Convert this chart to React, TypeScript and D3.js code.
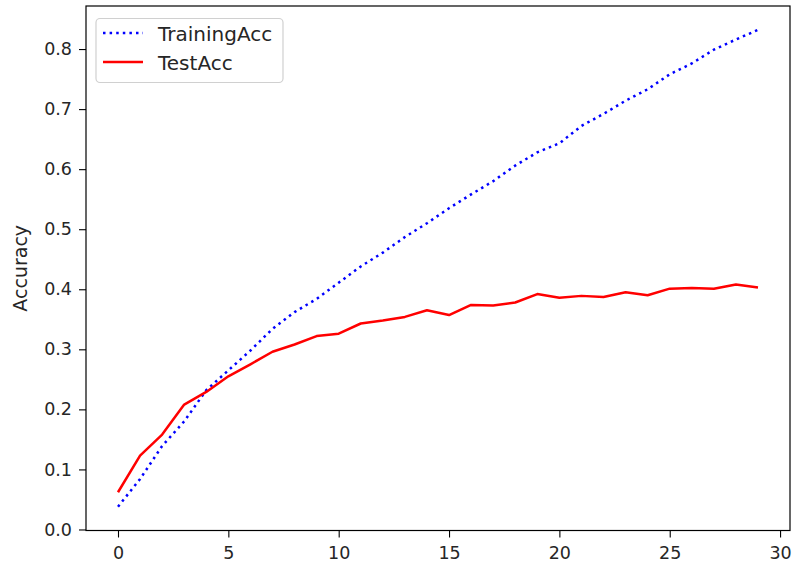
import React, { useEffect, useRef } from 'react';
import * as d3 from 'd3';

// epochs 0..29
const epochs = d3.range(0, 30);
const trainingAcc = [
  0.038, 0.084, 0.139, 0.180, 0.232, 0.265, 0.298, 0.334, 0.362, 0.384,
  0.411, 0.438, 0.461, 0.487, 0.510, 0.535, 0.558, 0.580, 0.606, 0.628,
  0.643, 0.672, 0.692, 0.714, 0.733, 0.758, 0.776, 0.799, 0.816, 0.832,
];
const testAcc = [
  0.062, 0.123, 0.158, 0.208, 0.229, 0.255, 0.275, 0.296, 0.308, 0.322,
  0.326, 0.343, 0.348, 0.354, 0.365, 0.357, 0.374, 0.373, 0.378, 0.392,
  0.386, 0.389, 0.387, 0.395, 0.390, 0.401, 0.402, 0.401, 0.408, 0.403,
];
const xTicks = [0, 5, 10, 15, 20, 25, 30];
const yTicks = [0.0, 0.1, 0.2, 0.3, 0.4, 0.5, 0.6, 0.7, 0.8];
const seriesNames = ['TrainingAcc', 'TestAcc'];

const App = () => {
  const ref = useRef<SVGSVGElement>(null);

  useEffect(() => {
    const width = 793, height = 567;
    const margin = { top: 6, right: 3, bottom: 36.5, left: 86 };
    const svg = d3.select(ref.current);
    svg.selectAll('*').remove();

    const font = 'DejaVu Sans, sans-serif';
    const textColor = '#262626';

    // matplotlib style 5% margins
    const xMin = 0, xMax = epochs.length - 1;
    const xPad = (xMax - xMin) * 0.05;
    const x = d3.scaleLinear()
      .domain([xMin - xPad, xMax + xPad])
      .range([margin.left, width - margin.right]);

    const all = trainingAcc.concat(testAcc);
    const yLo = d3.min(all) as number, yHi = d3.max(all) as number;
    const yPad = (yHi - yLo) * 0.05;
    const y = d3.scaleLinear()
      .domain([yLo - yPad, yHi + yPad])
      .range([height - margin.bottom, margin.top]);

    // axes
    const xAxis = svg.append('g')
      .attr('transform', `translate(0,${height - margin.bottom})`)
      .call(d3.axisBottom(x).tickValues(xTicks).tickFormat(d3.format('d')).tickSize(7).tickPadding(9));
    const yAxis = svg.append('g')
      .attr('transform', `translate(${margin.left},0)`)
      .call(d3.axisLeft(y).tickValues(yTicks).tickFormat(d3.format('.1f')).tickSize(7).tickPadding(7));
    [xAxis, yAxis].forEach(g => {
      g.select('.domain').remove();
      g.selectAll('line').attr('stroke', '#000').attr('stroke-width', 1.1);
      g.selectAll('text')
        .attr('fill', textColor)
        .style('font-family', font)
        .style('font-size', '17.5px');
    });

    // lines
    const line = (vals: number[]) =>
      d3.line<number>()
        .x((d, i) => x(epochs[i]))
        .y(d => y(d))(vals);

    svg.append('path')
      .attr('d', line(trainingAcc))
      .attr('fill', 'none')
      .attr('stroke', '#0000ff')
      .attr('stroke-width', 2.5)
      .attr('stroke-dasharray', '2.5,4.1');
    svg.append('path')
      .attr('d', line(testAcc))
      .attr('fill', 'none')
      .attr('stroke', '#ff0000')
      .attr('stroke-width', 2.5)
      .attr('stroke-linejoin', 'round');

    // frame
    svg.append('rect')
      .attr('x', margin.left)
      .attr('y', margin.top)
      .attr('width', width - margin.left - margin.right)
      .attr('height', height - margin.top - margin.bottom)
      .attr('fill', 'none')
      .attr('stroke', '#000')
      .attr('stroke-width', 1.2);

    // y label
    svg.append('text')
      .attr('transform', `translate(27,${(margin.top + height - margin.bottom) / 2}) rotate(-90)`)
      .attr('text-anchor', 'middle')
      .attr('fill', textColor)
      .style('font-family', font)
      .style('font-size', '19px')
      .text('Accuracy');

    // legend
    const leg = svg.append('g');
    leg.append('rect')
      .attr('x', 96).attr('y', 18.5)
      .attr('width', 187).attr('height', 64)
      .attr('rx', 4)
      .attr('fill', '#fff').attr('fill-opacity', 0.8)
      .attr('stroke', '#d0d0d0').attr('stroke-width', 1.2);
    const styles = [
      { color: '#0000ff', dash: '2.5,4.1' },
      { color: '#ff0000', dash: null },
    ];
    seriesNames.forEach((name, i) => {
      const cy = 33 + i * 29;
      leg.append('line')
        .attr('x1', 103).attr('x2', 143)
        .attr('y1', cy).attr('y2', cy)
        .attr('stroke', styles[i].color)
        .attr('stroke-width', 2.5)
        .attr('stroke-dasharray', styles[i].dash);
      leg.append('text')
        .attr('x', 158).attr('y', cy + 7.5)
        .attr('fill', textColor)
        .style('font-family', font)
        .style('font-size', '20px')
        .text(name);
    });
  }, []);

  return (
    <svg ref={ref} width={793} height={567}
      style={{ position: 'absolute', left: 0, top: 0, background: '#fff' }} />
  );
};

export default App;
